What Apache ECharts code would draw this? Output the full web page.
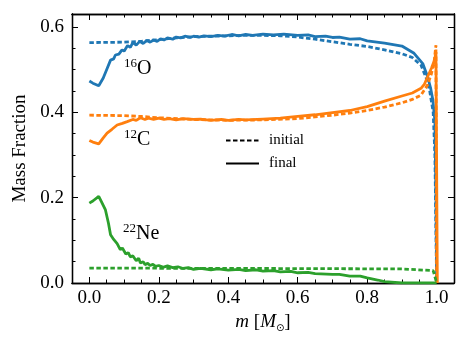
<!DOCTYPE html>
<html>
<head>
<meta charset="utf-8">
<script src="https://cdn.jsdelivr.net/npm/echarts@6/dist/echarts.min.js"></script>
<style>
  html, body { margin: 0; padding: 0; background: #fff; }
  #main { width: 468px; height: 348px; }
</style>
</head>
<body>
<div id="main"></div>
<script>
// tick positions
var xMajor = [0, 0.2, 0.4, 0.6, 0.8, 1.0];
var xMinor = [-0.05, 0, 0.05, 0.1, 0.15, 0.2, 0.25, 0.3, 0.35, 0.4, 0.45, 0.5, 0.55, 0.6, 0.65, 0.7, 0.75, 0.8, 0.85, 0.9, 0.95, 1.0, 1.05];
var yMajor = [0, 0.2, 0.4, 0.6];
var yMinor = [0, 0.05, 0.1, 0.15, 0.2, 0.25, 0.3, 0.35, 0.4, 0.45, 0.5, 0.55, 0.6];

// 16O
var oInitM = [0, 0.1, 0.15, 0.2, 0.25, 0.3, 0.35, 0.4, 0.45, 0.5, 0.55, 0.6, 0.65, 0.7, 0.75, 0.8, 0.85, 0.9, 0.93, 0.955, 0.97, 0.98, 0.99, 0.995, 1.0];
var oInitX = [0.563, 0.564, 0.566, 0.57, 0.574, 0.577, 0.578, 0.579, 0.58, 0.58, 0.579, 0.576, 0.571, 0.565, 0.559, 0.554, 0.546, 0.537, 0.528, 0.51, 0.48, 0.45, 0.40, 0.3, 0.0];
var oFinM = [0, 0.01, 0.027, 0.04, 0.05, 0.061, 0.07, 0.075, 0.085, 0.094, 0.1, 0.11, 0.118, 0.125, 0.135, 0.145, 0.155, 0.166, 0.175, 0.185, 0.195, 0.205, 0.215, 0.225, 0.24, 0.25, 0.263, 0.275, 0.29, 0.3, 0.315, 0.33, 0.35, 0.37, 0.39, 0.41, 0.43, 0.45, 0.47, 0.5, 0.53, 0.56, 0.6, 0.63, 0.65, 0.68, 0.7, 0.72, 0.75, 0.78, 0.8, 0.85, 0.9, 0.935, 0.96, 0.974, 0.983, 0.989, 0.995, 0.998, 1.0];
var oFinX = [0.473, 0.468, 0.462, 0.48, 0.50, 0.522, 0.525, 0.534, 0.536, 0.546, 0.543, 0.556, 0.552, 0.563, 0.557, 0.566, 0.561, 0.568, 0.564, 0.569, 0.566, 0.572, 0.569, 0.574, 0.571, 0.576, 0.574, 0.578, 0.575, 0.578, 0.576, 0.579, 0.577, 0.58, 0.578, 0.582, 0.579, 0.582, 0.58, 0.583, 0.581, 0.583, 0.58, 0.581, 0.577, 0.578, 0.575, 0.576, 0.571, 0.572, 0.567, 0.562, 0.555, 0.538, 0.514, 0.483, 0.455, 0.429, 0.38, 0.2, 0.0];

// 12C
var cInitM = [0, 0.1, 0.15, 0.2, 0.3, 0.4, 0.5, 0.6, 0.65, 0.7, 0.75, 0.8, 0.85, 0.9, 0.93, 0.955, 0.974, 0.985, 0.993, 0.998, 1.0];
var cInitX = [0.393, 0.392, 0.39, 0.387, 0.383, 0.381, 0.382, 0.385, 0.389, 0.393, 0.398, 0.404, 0.412, 0.422, 0.43, 0.44, 0.464, 0.49, 0.52, 0.557, 0.0];
var cFinM = [0, 0.01, 0.027, 0.04, 0.051, 0.065, 0.08, 0.095, 0.109, 0.125, 0.135, 0.147, 0.16, 0.17, 0.185, 0.2, 0.215, 0.23, 0.25, 0.27, 0.3, 0.32, 0.35, 0.38, 0.4, 0.43, 0.45, 0.5, 0.55, 0.6, 0.65, 0.7, 0.75, 0.8, 0.85, 0.9, 0.93, 0.955, 0.965, 0.974, 0.985, 0.994, 0.998, 1.002];
var cFinX = [0.334, 0.33, 0.326, 0.34, 0.351, 0.36, 0.370, 0.374, 0.378, 0.383, 0.381, 0.387, 0.383, 0.386, 0.383, 0.386, 0.383, 0.385, 0.382, 0.385, 0.383, 0.384, 0.381, 0.383, 0.381, 0.383, 0.382, 0.384, 0.386, 0.39, 0.394, 0.399, 0.404, 0.413, 0.426, 0.438, 0.445, 0.456, 0.466, 0.483, 0.503, 0.522, 0.541, 0.0];

// 22Ne
var neInitM = [0, 0.5, 0.9, 0.99, 0.995, 1.0];
var neInitX = [0.035, 0.034, 0.033, 0.029, 0.015, 0.0];
var neFinM = [0, 0.01, 0.027, 0.035, 0.046, 0.055, 0.061, 0.07, 0.08, 0.089, 0.095, 0.105, 0.112, 0.118, 0.125, 0.135, 0.142, 0.147, 0.155, 0.16, 0.168, 0.175, 0.183, 0.19, 0.2, 0.214, 0.225, 0.24, 0.255, 0.27, 0.285, 0.3, 0.32, 0.35, 0.37, 0.4, 0.43, 0.45, 0.48, 0.5, 0.53, 0.55, 0.58, 0.6, 0.63, 0.65, 0.7, 0.72, 0.75, 0.78, 0.8, 0.83, 0.85, 0.9, 0.95, 1.0];
var neFinX = [0.187, 0.192, 0.203, 0.19, 0.172, 0.14, 0.113, 0.102, 0.092, 0.078, 0.082, 0.068, 0.071, 0.061, 0.064, 0.052, 0.058, 0.047, 0.05, 0.043, 0.046, 0.041, 0.044, 0.039, 0.041, 0.037, 0.04, 0.036, 0.038, 0.034, 0.036, 0.032, 0.034, 0.031, 0.033, 0.03, 0.032, 0.029, 0.031, 0.028, 0.029, 0.026, 0.027, 0.024, 0.025, 0.022, 0.02, 0.02, 0.016, 0.016, 0.012, 0.007, 0.003, 0.0, 0.0, 0.0];

var blue = '#1f77b4', orange = '#ff7f0e', green = '#2ca02c';
var serif = 'Liberation Serif, Times New Roman, serif';

function pairs(m, v) {
  return m.map(function (x, i) { return [x, v[i]]; });
}

function curve(name, m, v, color, dashed) {
  return {
    name: name,
    type: 'line',
    data: pairs(m, v),
    symbol: 'none',
    silent: true,
    animation: false,
    lineStyle: { color: color, width: 2.8, type: dashed ? [4.5, 2.5] : 'solid' },
    itemStyle: { color: color }
  };
}

function frameAxis(pos, min, max, ticks, len, labels) {
  return {
    type: 'value', position: pos, min: min, max: max,
    axisLine: { show: true, onZero: false, lineStyle: { color: '#000', width: 1.3 } },
    axisTick: { show: true, inside: true, length: len, customValues: ticks, lineStyle: { color: '#000', width: 1 } },
    axisLabel: labels ? {
      show: true, customValues: ticks, color: '#000', fontFamily: serif, fontSize: 19,
      margin: pos === 'left' ? 8 : 6,
      formatter: function (v) { return v.toFixed(1); }
    } : { show: false },
    splitLine: { show: false }
  };
}

var xAxes = [
  frameAxis('bottom', -0.05, 1.05, xMajor, 6, true),
  frameAxis('bottom', -0.05, 1.05, xMinor, 3.5, false),
  frameAxis('top', -0.05, 1.05, xMajor, 6, false),
  frameAxis('top', -0.05, 1.05, xMinor, 3.5, false)
];
xAxes[0].name = '{i|m} [{i|M}{s|⊙}]';
xAxes[0].nameLocation = 'middle';
xAxes[0].nameGap = 28;
xAxes[0].nameTextStyle = {
  color: '#000', fontFamily: serif, fontSize: 19,
  rich: {
    i: { fontFamily: serif, fontSize: 19, fontStyle: 'italic', color: '#000' },
    s: { fontFamily: 'DejaVu Sans', fontSize: 10, color: '#000', padding: [12, 0, 0, 0] }
  }
};

var yAxes = [
  frameAxis('left', 0, 0.63, yMajor, 6, true),
  frameAxis('left', 0, 0.63, yMinor, 3.5, false),
  frameAxis('right', 0, 0.63, yMajor, 6, false),
  frameAxis('right', 0, 0.63, yMinor, 3.5, false)
];
yAxes[0].name = 'Mass Fraction';
yAxes[0].nameLocation = 'middle';
yAxes[0].nameGap = 42;
yAxes[0].nameTextStyle = { color: '#000', fontFamily: serif, fontSize: 19 };

function isoLabel(left, top, mass, sym) {
  return {
    type: 'text', left: left, top: top, silent: true,
    style: {
      text: '{s|' + mass + '}{b|' + sym + '}',
      rich: {
        s: { fontFamily: serif, fontSize: 13, fill: '#000', verticalAlign: 'top', lineHeight: 22 },
        b: { fontFamily: serif, fontSize: 20, fill: '#000', verticalAlign: 'bottom', lineHeight: 22 }
      }
    }
  };
}

var chart = echarts.init(document.getElementById('main'));
chart.setOption({
  backgroundColor: '#fff',
  animation: false,
  grid: { left: 72, right: 14, top: 14, bottom: 65, containLabel: false },
  xAxis: xAxes,
  yAxis: yAxes,
  legend: {
    data: ['initial', 'final'],
    orient: 'vertical',
    left: 220, top: 128,
    itemWidth: 33, itemHeight: 14, itemGap: 8,
    itemStyle: { opacity: 0 },
    textStyle: { fontFamily: serif, fontSize: 15, color: '#000', padding: [0, 0, 0, 5] }
  },
  graphic: [
    isoLabel(124, 57, '16', 'O'),
    isoLabel(124, 128, '12', 'C'),
    isoLabel(123, 222, '22', 'Ne')
  ],
  series: [
    curve('O initial', oInitM, oInitX, blue, true),
    curve('O final', oFinM, oFinX, blue, false),
    curve('C initial', cInitM, cInitX, orange, true),
    curve('C final', cFinM, cFinX, orange, false),
    curve('Ne initial', neInitM, neInitX, green, true),
    curve('Ne final', neFinM, neFinX, green, false),
    curve('initial', [], [], '#000', true),
    curve('final', [], [], '#000', false)
  ]
});
</script>
</body>
</html>
